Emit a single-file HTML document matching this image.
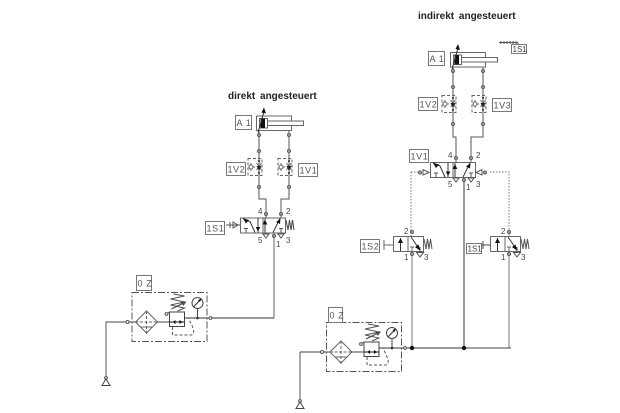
<!DOCTYPE html>
<html><head><meta charset="utf-8"><style>
html,body{margin:0;padding:0;background:#fff}
svg{display:block;font-family:"Liberation Sans",sans-serif;filter:blur(0.3px)}
.t{font-size:10px;font-weight:bold;fill:#222;word-spacing:2px;stroke:none}
.l{font-size:9px;fill:#555;letter-spacing:.6px;stroke:none}
.p{font-size:8px;fill:#444;stroke:none}
.b{fill:#fff;stroke:#777;stroke-width:1}
</style></head><body>
<svg width="620" height="413" viewBox="0 0 620 413" xmlns="http://www.w3.org/2000/svg">
<defs>
<g id="cyl" fill="none" stroke="#555">
  <rect x="0.5" y="0.5" width="35" height="14.5" stroke="#666"/>
  <rect x="3.5" y="3" width="8" height="9.5" stroke="#666"/>
  <rect x="5" y="3.5" width="3.5" height="8.5" fill="#111" stroke="#111"/>
  <rect x="11.5" y="5.5" width="36" height="4.5" fill="#fff" stroke="#666"/>
  <path d="M2 17L8 -4" stroke="#333"/>
  <path d="M8 -8L5.5 -3L10 -2Z" fill="#111" stroke="none"/>
</g>
<g id="thr" fill="none">
  <rect x="-11" y="-8.5" width="14" height="17" stroke="#666" stroke-dasharray="3 2"/>
  <path d="M0 -8V8" stroke="#555"/>
  <path d="M-2.500 -4L2.500 3M2.500 -4L-2.500 3" stroke="#666"/>
  <path d="M-2.500 -1H2.500L0 4Z" fill="#222"/>
  <path d="M-8 -4V4M-8 0L-4 0" stroke="#666"/>
  <circle cx="-8" cy="0" r="2" fill="#fff" stroke="#666"/>
  <circle cx="0" cy="-6" r="1" fill="#222"/>
  <circle cx="0" cy="6" r="1" fill="#222"/>
</g>
<g id="v52" fill="none" stroke="#555">
  <rect x="0.5" y="0.5" width="45" height="15" fill="#fff" stroke="#666"/>
  <path d="M23 .5V15.5" stroke="#666"/>
  <path d="M3 1L10 4L15 15" stroke="#333"/>
  <path d="M3 1L9 2.5L6 6Z" fill="#111" stroke="none"/>
  <path d="M6 15V11M4 11H8" stroke="#555"/>
  <path d="M18 1V15M25 1V15" stroke="#333"/>
  <path d="M18 14L15.7 9.5H20.3Z" fill="#111" stroke="none"/>
  <path d="M25 2L22.7 7H27.3Z" fill="#111" stroke="none"/>
  <path d="M33 15L40 1" stroke="#333"/>
  <path d="M40.5 1L36 4.5L40 6.5Z" fill="#111" stroke="none"/>
  <path d="M41 15V11M39 11H43" stroke="#555"/>
</g>
<g id="v32" fill="none" stroke="#555">
  <rect x="0.5" y="0.5" width="30" height="15" fill="#fff" stroke="#666"/>
  <path d="M15 .5V15.5" stroke="#666"/>
  <path d="M7.5 15V2" stroke="#333"/>
  <path d="M7.5 2L5 7H10Z" fill="#111" stroke="none"/>
  <path d="M19 15V11M17 11H21M27 15V11" stroke="#666"/>
  <path d="M18 1L27 14" stroke="#333"/>
  <path d="M27.5 15L22 11L25.5 8.5Z" fill="#111" stroke="none"/>
  <path d="M31 3L33 13L34.5 3L36 13L37.5 3L39 13" stroke="#555"/>
  <path d="M23.5 16.5H30.5L27 21Z" fill="#fff" stroke="#555"/>
</g>
<g id="frl" fill="none">
  <rect x="0.5" y="0.5" width="75" height="49" stroke="#555" stroke-dasharray="7 2 2 2"/>
  <path d="M-26 30H4" stroke="#444"/>
  <circle cx="-4" cy="30" r="1.5" fill="#fff" stroke="#555"/>
  <path d="M4 30L15 19L26 30L15 41Z" fill="#fff" stroke="#666"/>
  <path d="M4 30H26" stroke="#666" stroke-dasharray="3 1.5"/>
  <path d="M15 19V44" stroke="#666" stroke-dasharray="3 2"/>
  <path d="M9 35H21" stroke="#666"/>
  <path d="M26 30H38" stroke="#444"/>
  <rect x="38" y="20" width="15" height="14.5" fill="#fff" stroke="#444"/>
  <path d="M38 30H53" stroke="#111"/>
  <path d="M41 30L44 28V32ZM51 30L48 28V32Z" fill="#111"/>
  <path d="M38 20L35 22" stroke="#555"/>
  <circle cx="35" cy="22" r="1.4" fill="#fff" stroke="#555"/>
  <path d="M46 19L53 16L39 13L53 10L39 7L53 4L42 2" stroke="#555"/>
  <path d="M40 17L54 10M54 10L50 10.5L52 13Z" fill="none" stroke="#444"/>
  <path d="M41 35V43H59Q63 43 62 37L57 26H53" stroke="#555" stroke-dasharray="3 2"/>
  <path d="M53 26H142.500" stroke="#333"/>
  <circle cx="66" cy="26" r="1.3" fill="#222"/>
  <circle cx="79" cy="26" r="1.4" fill="#fff" stroke="#555"/>
  <path d="M66 26V17" stroke="#444"/>
  <circle cx="66" cy="11" r="5.500" fill="#fff" stroke="#444"/>
  <path d="M62 15L69.500 7" stroke="#333"/>
  <path d="M70 6.500L66.500 8L68.500 10Z" fill="#111"/>
</g>
<g id="src" fill="none" stroke="#555">
  <circle cx="0" cy="-3" r="1.4" fill="#fff"/>
  <path d="M0 -2L-4 4.500H4Z" fill="#fff" stroke="#444"/>
</g>
<g id="exh"><path d="M-3 0H3L0 4Z" fill="#fff" stroke="#555"/></g>
<g id="pt"><circle r="1.6" fill="#999" stroke="#555" stroke-width=".8"/></g>
</defs>

<text class="t" x="228" y="99">direkt angesteuert</text>
<text class="t" x="418" y="19">indirekt angesteuert</text>

<!-- LEFT CIRCUIT -->
<g fill="none" stroke="#555">
  <path d="M259 130V199H266V218M289 130V199H281V218"/>
  <path d="M274 233V318" stroke="#666"/>
</g>
<use href="#pt" x="259" y="135"/><use href="#pt" x="289" y="135"/>
<use href="#pt" x="259" y="151"/><use href="#pt" x="289" y="151"/>
<use href="#pt" x="259" y="187"/><use href="#pt" x="289" y="187"/>
<use href="#pt" x="266" y="214"/><use href="#pt" x="281" y="214"/>
<use href="#cyl" x="256" y="115.500"/>
<use href="#thr" x="259" y="167"/><use href="#thr" x="289" y="167"/>
<use href="#v52" x="240" y="217.500"/>
<use href="#pt" x="274" y="236"/>
<use href="#exh" x="266" y="234"/><use href="#exh" x="281" y="234"/>
<path d="M226 225H240M230 222V228M233 222L238 225L233 228Z" fill="none" stroke="#555"/>
<path d="M286 220L288 230L289.500 220L291 230L292.500 220L294 230" fill="none" stroke="#444"/>

<rect class="b" x="235.500" y="115.500" width="16" height="14"/><text class="l" x="236.500" y="126">A 1</text>
<rect class="b" x="226.500" y="162.500" width="19" height="13"/><text class="l" x="227.500" y="172.500">1V2</text>
<rect class="b" x="298.500" y="163.500" width="19" height="13"/><text class="l" x="299.500" y="173.500">1V1</text>
<rect class="b" x="205.500" y="221.500" width="19" height="13"/><text class="l" x="206.500" y="231.500">1S1</text>
<text class="p" x="258" y="214">4</text><text class="p" x="286" y="214">2</text>
<text class="p" x="258" y="243">5</text><text class="p" x="286" y="243">3</text><text class="p" x="276" y="247">1</text>

<use href="#frl" x="131.500" y="292"/>
<path d="M106 322V379" fill="none" stroke="#555"/>
<use href="#src" x="106" y="381"/>
<rect class="b" x="136.500" y="275.500" width="15" height="15"/><text class="l" x="137.500" y="286.500">0 Z</text>

<!-- RIGHT CIRCUIT -->
<g fill="none" stroke="#555">
  <path d="M453 67V137H456V163M483 67V137H471V163"/>
  <path d="M464 177V348" stroke="#333"/>
  <path d="M412 251V348M509 251V348" stroke="#777"/>
  <path d="M411 172H420M411 172V236M490 172H509V236" stroke="#777" stroke-dasharray="1.500 1.500"/>
</g>
<use href="#pt" x="453" y="71"/><use href="#pt" x="483" y="71"/>
<use href="#pt" x="453" y="87"/><use href="#pt" x="483" y="87"/>
<use href="#pt" x="453" y="124"/><use href="#pt" x="483" y="124"/>
<use href="#pt" x="456" y="158"/><use href="#pt" x="471" y="158"/>
<use href="#cyl" x="450" y="52"/>
<use href="#thr" x="453" y="104"/><use href="#thr" x="483" y="104"/>
<use href="#v52" x="430" y="162"/>
<use href="#pt" x="464" y="180"/>
<use href="#exh" x="456" y="178"/><use href="#exh" x="471" y="178"/>
<path d="M423 169.500V175L429 172.500Z" fill="#fff" stroke="#555"/>
<path d="M482 169.500V175L476 172.500Z" fill="#fff" stroke="#555"/>
<use href="#pt" x="420" y="172.500"/><use href="#pt" x="485" y="172.500"/>

<path d="M499 42.500H518M501 41V44M504 41V44M507 41V44M510 41V44M513 41V44M516 41V44M518 42.500V46" fill="none" stroke="#555"/>
<rect class="b" x="511.500" y="44.500" width="15" height="9"/><text x="512.500" y="52" style="font-size:8px;fill:#444">1S1</text>
<rect class="b" x="428.500" y="51.500" width="16" height="14"/><text class="l" x="429.500" y="62">A 1</text>
<rect class="b" x="418.500" y="97.500" width="19" height="13"/><text class="l" x="419.500" y="107.500">1V2</text>
<rect class="b" x="492.500" y="98.500" width="19" height="13"/><text class="l" x="493.500" y="108.500">1V3</text>
<rect class="b" x="409.500" y="149.500" width="19" height="13"/><text class="l" x="410.500" y="159.500">1V1</text>
<text class="p" x="448" y="158">4</text><text class="p" x="476" y="158">2</text>
<text class="p" x="448" y="187">5</text><text class="p" x="476" y="187">3</text><text class="p" x="466" y="190">1</text>

<use href="#v32" x="393" y="236"/>
<use href="#v32" x="490" y="236"/>
<use href="#pt" x="412" y="232"/><use href="#pt" x="509" y="232"/>
<use href="#pt" x="412" y="254"/><use href="#pt" x="509" y="254"/>
<path d="M384 240V250M384 245H393" fill="none" stroke="#666"/>
<path d="M481 245H490M483 241V249" fill="none" stroke="#444"/>
<rect class="b" x="360.500" y="239.500" width="19" height="13"/><text class="l" x="361.500" y="249.500">1S2</text>
<rect class="b" x="466.500" y="243.500" width="15" height="10"/><text x="467.500" y="251.500" style="font-size:8px;fill:#444">1S1</text>
<text class="p" x="404" y="234">2</text><text class="p" x="501" y="234">2</text>
<text class="p" x="404" y="260">1</text><text class="p" x="501" y="260">1</text>
<text class="p" x="424" y="260">3</text><text class="p" x="521" y="260">3</text>

<use href="#frl" x="326" y="322"/>
<path d="M465 348H511" fill="none" stroke="#444"/>
<circle cx="412" cy="348" r="2.200" fill="#111"/><circle cx="464" cy="348" r="2.200" fill="#111"/>
<path d="M300 352V402" fill="none" stroke="#555"/>
<use href="#src" x="300" y="404"/>
<rect class="b" x="328.500" y="307.500" width="14" height="15"/><text class="l" x="329.500" y="318.500">0 Z</text>
</svg>
</body></html>
